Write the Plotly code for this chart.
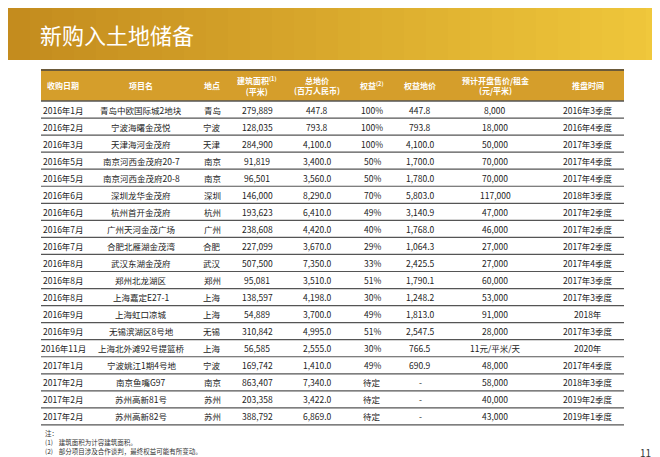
import plotly.graph_objects as go

dates = ["2016年1月","2016年2月","2016年3月","2016年5月","2016年5月","2016年6月","2016年6月","2016年7月","2016年7月","2016年8月","2016年8月","2016年8月","2016年9月","2016年9月","2016年11月","2017年1月","2017年2月","2017年2月","2017年2月"]
projects = ["青岛中欧国际城2地块","宁波海曙金茂悦","天津海河金茂府","南京河西金茂府20-7","南京河西金茂府20-8","深圳龙华金茂府","杭州首开金茂府","广州天河金茂广场","合肥北雁湖金茂湾","武汉东湖金茂府","郑州北龙湖区","上海嘉定E27-1","上海虹口凉城","无锡滨湖区8号地","上海北外滩92号提篮桥","宁波姚江1期4号地","南京鱼嘴G97","苏州高新81号","苏州高新82号"]
cities = ["青岛","宁波","天津","南京","南京","深圳","杭州","广州","合肥","武汉","郑州","上海","上海","无锡","上海","宁波","南京","苏州","苏州"]
areas = ["279,889","128,035","284,900","91,819","96,501","146,000","193,623","238,608","227,099","507,500","95,081","138,597","54,889","310,842","56,585","169,742","863,407","203,358","388,792"]
land_price = ["447.8","793.8","4,100.0","3,400.0","3,560.0","8,290.0","6,410.0","4,420.0","3,670.0","7,350.0","3,510.0","4,198.0","3,700.0","4,995.0","2,555.0","1,410.0","7,340.0","3,422.0","6,869.0"]
equity = ["100%","100%","100%","50%","50%","70%","49%","40%","29%","33%","51%","30%","49%","51%","30%","49%","待定","待定","待定"]
equity_price = ["447.8","793.8","4,100.0","1,700.0","1,780.0","5,803.0","3,140.9","1,768.0","1,064.3","2,425.5","1,790.1","1,248.2","1,813.0","2,547.5","766.5","690.9","-","-","-"]
sale_price = ["8,000","18,000","50,000","70,000","70,000","117,000","47,000","46,000","27,000","27,000","60,000","53,000","91,000","28,000","11元/平米/天","48,000","58,000","40,000","43,000"]
launch = ["2016年3季度","2016年4季度","2017年3季度","2017年4季度","2017年4季度","2018年3季度","2017年2季度","2017年2季度","2017年2季度","2017年4季度","2017年3季度","2017年3季度","2018年","2017年3季度","2020年","2017年4季度","2018年3季度","2019年2季度","2019年1季度"]
headers = ["收购日期","项目名","地点","建筑面积<sup>(1)</sup><br>(平米)","总地价<br>(百万人民币)","权益<sup>(2)</sup>","权益地价","预计开盘售价/租金<br>(元/平米)","推盘时间"]
col_x = [55,133,204,249,309,364,412,487,580]
columns = [dates, projects, cities, areas, land_price, equity, equity_price, sale_price, launch]

W, H = 660, 457
F = "Noto Sans CJK SC"
fig = go.Figure()
shapes, ann = [], []
n = 30
for i in range(n):
    t = i / (n - 1)
    r = int(196 + (240 - 196) * t); g = int(140 + (200 - 140) * t); b = int(30 + (60 - 30) * t)
    shapes.append(dict(type="rect", x0=W*i/n, x1=W*(i+1)/n+1, y0=0, y1=52, fillcolor=f"rgb({r},{g},{b})", line_width=0, layer="below"))
ann.append(dict(x=30, y=26, text="新购入土地储备", showarrow=False, xanchor="left", yanchor="middle", font=dict(family=F, size=22, color="white")))
tx0, tx1 = 33, 616
shapes.append(dict(type="rect", x0=tx0, x1=tx1, y0=62, y1=93, fillcolor="#D59E2B", line_width=0))
shapes.append(dict(type="line", x0=tx0, x1=tx1, y0=62, y1=62, line=dict(color="#6b5a3a", width=2)))
shapes.append(dict(type="line", x0=tx0, x1=tx1, y0=93, y1=93, line=dict(color="#555", width=1.5)))
for x, h in zip(col_x, headers):
    ann.append(dict(x=x, y=77.5, text="<b>"+h+"</b>", showarrow=False, font=dict(family=F, size=8, color="white"), align="center"))
rh = 17.05
y0 = 93
for i in range(len(dates)):
    yc = y0 + rh * (i + 0.5)
    for x, col in zip(col_x, columns):
        ann.append(dict(x=x, y=yc, text=col[i], showarrow=False, font=dict(family=F, size=8.5, color="#222")))
    shapes.append(dict(type="line", x0=tx0, x1=tx1, y0=y0+rh*(i+1), y1=y0+rh*(i+1), line=dict(color="#555", width=1.2)))
notes = ["注：", "(1)    建筑面积为计容建筑面积。", "(2)    部分项目涉及合作谈判，最终权益可能有所变动。"]
for k, s in enumerate(notes):
    ann.append(dict(x=35, y=425+k*9, text=s, showarrow=False, xanchor="left", font=dict(family=F, size=6.5, color="#333")))
ann.append(dict(x=645, y=444, text="11", showarrow=False, xanchor="right", font=dict(family=F, size=10, color="#333")))
fig.update_layout(width=W, height=H, margin=dict(l=0, r=0, t=0, b=0), plot_bgcolor="white", paper_bgcolor="white",
                  xaxis=dict(range=[0, W], visible=False, fixedrange=True),
                  yaxis=dict(range=[H, 0], visible=False, fixedrange=True),
                  shapes=shapes, annotations=ann, showlegend=False)
fig.write_html("out.html")
